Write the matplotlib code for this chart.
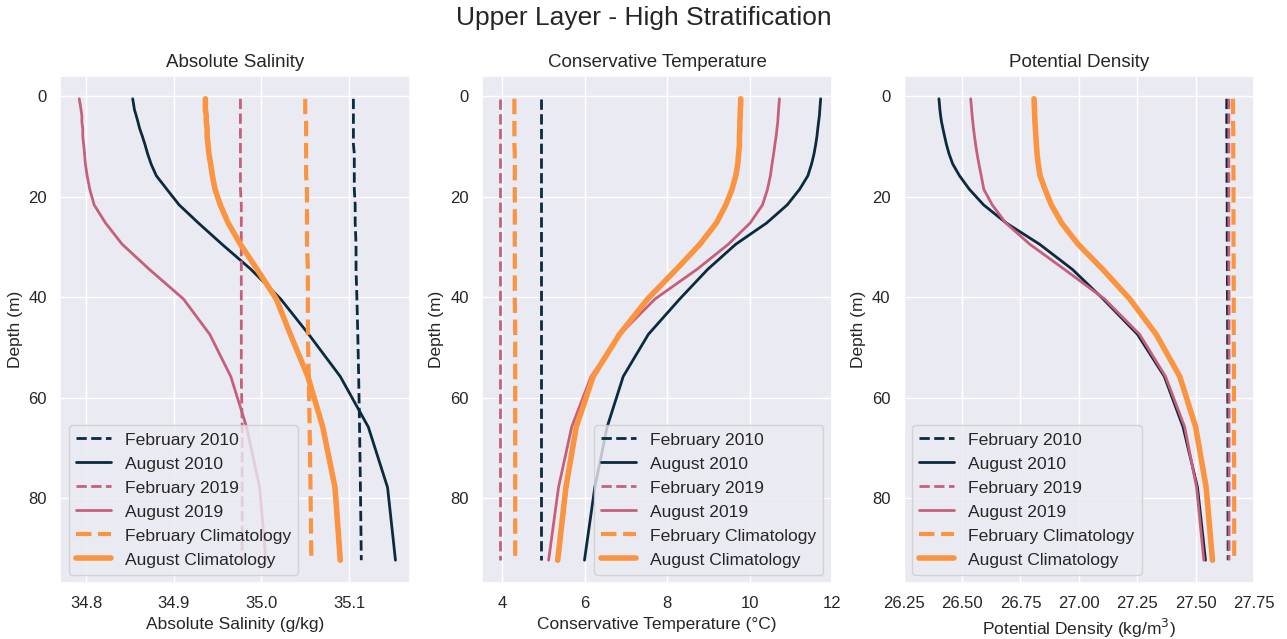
import matplotlib
matplotlib.use("Agg")
import matplotlib.pyplot as plt
import seaborn as sns

# Depth levels (m)
depth = [0.494, 1.541, 2.646, 3.819, 5.078, 6.441, 7.930, 9.573, 11.405, 13.467,
         15.810, 18.496, 21.599, 25.211, 29.445, 34.434, 40.344, 47.374, 55.764,
         65.807, 77.854, 92.326]

# Absolute Salinity (g/kg)
sa_feb2010 = [35.105, 35.105, 35.105, 35.105, 35.105, 35.105, 35.105, 35.105, 35.106, 35.106,
              35.106, 35.106, 35.107, 35.107, 35.108, 35.108, 35.109, 35.110, 35.111,
              35.112, 35.113, 35.114]
sa_aug2010 = [34.853, 34.854, 34.855, 34.857, 34.859, 34.861, 34.864, 34.867, 34.870, 34.874,
              34.880, 34.892, 34.906, 34.928, 34.955, 34.988, 35.022, 35.054, 35.090,
              35.122, 35.144, 35.153]
sa_feb2019 = [34.976, 34.976, 34.976, 34.976, 34.976, 34.976, 34.976, 34.976, 34.976, 34.976,
              34.976, 34.976, 34.977, 34.977, 34.977, 34.977, 34.977, 34.977, 34.977,
              34.978, 34.978, 34.978]
sa_aug2019 = [34.792, 34.793, 34.794, 34.795, 34.795, 34.796, 34.796, 34.797, 34.798, 34.799,
              34.801, 34.804, 34.809, 34.822, 34.841, 34.872, 34.911, 34.941, 34.965,
              34.983, 34.998, 35.005]
sa_febclim = [35.050, 35.050, 35.050, 35.050, 35.051, 35.051, 35.051, 35.051, 35.051, 35.051,
              35.051, 35.052, 35.052, 35.052, 35.052, 35.053, 35.053, 35.053, 35.054,
              35.055, 35.056, 35.057]
sa_augclim = [34.936, 34.936, 34.936, 34.937, 34.937, 34.938, 34.938, 34.939, 34.940, 34.942,
              34.944, 34.947, 34.953, 34.962, 34.976, 34.995, 35.017, 35.033, 35.053,
              35.070, 35.084, 35.090]

# Conservative Temperature (degC)
ct_feb2010 = [4.93] * 22
ct_aug2010 = [11.72, 11.71, 11.70, 11.69, 11.67, 11.65, 11.63, 11.60, 11.56, 11.50,
              11.41, 11.21, 10.91, 10.41, 9.66, 8.98, 8.30, 7.54, 6.93,
              6.54, 6.24, 5.99]
ct_feb2019 = [3.94] * 22
ct_aug2019 = [10.72, 10.71, 10.70, 10.69, 10.68, 10.66, 10.64, 10.61, 10.58, 10.54,
              10.50, 10.43, 10.31, 10.01, 9.48, 8.72, 7.70, 6.85, 6.15,
              5.68, 5.36, 5.12]
ct_febclim = [4.29, 4.29, 4.29, 4.29, 4.29, 4.29, 4.29, 4.29, 4.30, 4.30,
              4.30, 4.30, 4.30, 4.30, 4.30, 4.30, 4.30, 4.31, 4.31,
              4.31, 4.31, 4.31]
ct_augclim = [9.78, 9.78, 9.77, 9.77, 9.76, 9.76, 9.75, 9.75, 9.73, 9.71,
              9.66, 9.57, 9.42, 9.19, 8.79, 8.22, 7.52, 6.84, 6.20,
              5.79, 5.54, 5.34]

# Potential Density (kg/m3)
pd_feb2010 = [27.633, 27.633, 27.633, 27.633, 27.633, 27.633, 27.633, 27.634, 27.634, 27.634,
              27.634, 27.634, 27.635, 27.635, 27.635, 27.636, 27.636, 27.637, 27.637,
              27.638, 27.638, 27.639]
pd_aug2010 = [26.401, 26.403, 26.405, 26.408, 26.412, 26.418, 26.425, 26.433, 26.444, 26.460,
              26.489, 26.531, 26.592, 26.689, 26.832, 26.972, 27.104, 27.251, 27.366,
              27.446, 27.508, 27.542]
pd_feb2019 = [27.642, 27.642, 27.642, 27.642, 27.642, 27.642, 27.642, 27.642, 27.642, 27.642,
              27.642, 27.642, 27.642, 27.642, 27.642, 27.642, 27.643, 27.643, 27.643,
              27.643, 27.643, 27.643]
pd_aug2019 = [26.537, 26.539, 26.541, 26.543, 26.546, 26.549, 26.553, 26.558, 26.564, 26.572,
              26.582, 26.593, 26.629, 26.687, 26.790, 26.938, 27.110, 27.260, 27.371,
              27.453, 27.504, 27.535]
pd_febclim = [27.660, 27.660, 27.660, 27.660, 27.660, 27.661, 27.661, 27.661, 27.661, 27.661,
              27.662, 27.662, 27.662, 27.662, 27.662, 27.663, 27.663, 27.663, 27.664,
              27.664, 27.665, 27.665]
pd_augclim = [26.808, 26.809, 26.810, 26.811, 26.812, 26.814, 26.816, 26.818, 26.821, 26.826,
              26.834, 26.855, 26.882, 26.926, 26.997, 27.102, 27.218, 27.331, 27.432,
              27.500, 27.545, 27.572]

labels = ["February 2010", "August 2010", "February 2019", "August 2019",
          "February Climatology", "August Climatology"]

sns.set_theme(style="darkgrid")
plt.rcParams['font.family'] = ['Liberation Sans', 'DejaVu Sans']

c_dark = "#0c2a3e"
c_pink = "#c6607a"
c_orange = "#fb9440"
styles = [
    dict(color=c_dark, ls="--", lw=2.0),
    dict(color=c_dark, ls="-", lw=2.0),
    dict(color=c_pink, ls="--", lw=2.0),
    dict(color=c_pink, ls="-", lw=2.0),
    dict(color=c_orange, ls="--", lw=3.0),
    dict(color=c_orange, ls="-", lw=4.0),
]

fig, axes = plt.subplots(1, 3, figsize=(12.87, 6.39), dpi=100)
fig.subplots_adjust(left=0.0466, right=0.9744, top=0.8815, bottom=0.0872, wspace=0.204)

panels = [
    ("Absolute Salinity", "Absolute Salinity (g/kg)",
     [sa_feb2010, sa_aug2010, sa_feb2019, sa_aug2019, sa_febclim, sa_augclim],
     (34.77, 35.17), [34.8, 34.9, 35.0, 35.1], ["34.8", "34.9", "35.0", "35.1"], "lower left"),
    ("Conservative Temperature", "Conservative Temperature (°C)",
     [ct_feb2010, ct_aug2010, ct_feb2019, ct_aug2019, ct_febclim, ct_augclim],
     (3.5, 12.0), [4, 6, 8, 10, 12], ["4", "6", "8", "10", "12"], "lower right"),
    ("Potential Density", "Potential Density (kg/m$^3$)",
     [pd_feb2010, pd_aug2010, pd_feb2019, pd_aug2019, pd_febclim, pd_augclim],
     (26.25, 27.75), [26.25, 26.5, 26.75, 27.0, 27.25, 27.5, 27.75],
     ["26.25", "26.50", "26.75", "27.00", "27.25", "27.50", "27.75"], "lower left"),
]

for ax, (title, xlabel, series, xlim, xt, xtl, loc) in zip(axes, panels):
    for vals, lab, st in zip(series, labels, styles):
        ax.plot(vals, depth, label=lab, **st)
    ax.invert_yaxis()
    ax.set_xlim(*xlim)
    ax.set_xticks(xt)
    ax.set_xticklabels(xtl)
    ax.set_yticks([0, 20, 40, 60, 80])
    ax.set_title(title, fontsize=13.5)
    ax.set_xlabel(xlabel, fontsize=12.5)
    ax.set_ylabel("Depth (m)", fontsize=12.5)
    ax.tick_params(labelsize=12)
    ax.legend(loc=loc, fontsize=12.6)

fig.suptitle("Upper Layer - High Stratification", fontsize=19, y=0.99)
fig.savefig("out.png", dpi=100)
